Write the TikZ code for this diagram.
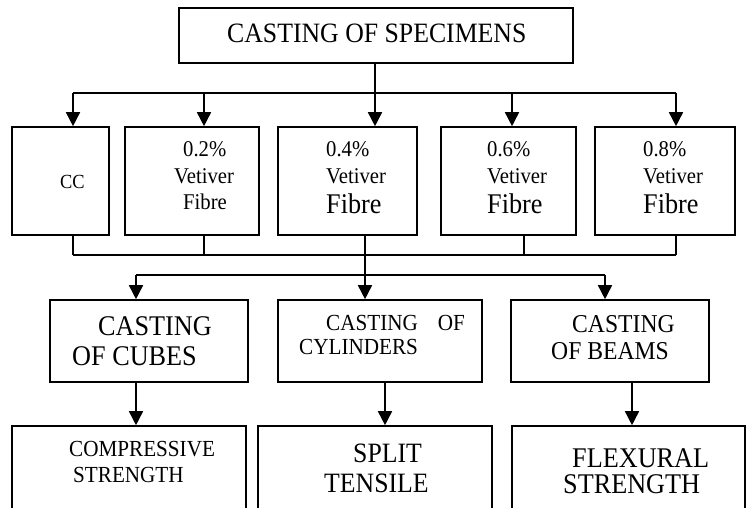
\documentclass[tikz,border=0pt]{standalone}
\usepackage{fontspec}
\setmainfont[FakeStretch=0.92]{Liberation Serif}
\usetikzlibrary{arrows.meta}
\begin{document}
\begin{tikzpicture}[x=1pt,y=-1pt,
  box/.style={draw, line width=1.6pt, inner sep=0pt},
  conn/.style={line width=1.6pt},
  arr/.style={conn, -{Triangle[width=14pt,length=14pt]}},
  lbl/.style={inner sep=0pt, anchor=base west},
  fa/.style={font=\fontsize{20}{22}\selectfont},
  fb/.style={font=\fontsize{22.5}{24}\selectfont},
  fc/.style={font=\fontsize{28.5}{30}\selectfont},
  fd/.style={font=\fontsize{25.7}{28}\selectfont}
]
\path[use as bounding box] (0,0) rectangle (749,508);
\clip (0,0) rectangle (749,508);

% boxes
\node[box, minimum width=394pt, minimum height=55pt] (top) at (376,35.5) {};
\node[box, minimum width=97pt,  minimum height=108pt] (cc) at (60.5,181) {};
\node[box, minimum width=134pt, minimum height=108pt] (b2) at (192,181) {};
\node[box, minimum width=139pt, minimum height=108pt] (b4) at (347.5,181) {};
\node[box, minimum width=135pt, minimum height=108pt] (b6) at (508.5,181) {};
\node[box, minimum width=140pt, minimum height=108pt] (b8) at (665,181) {};
\node[box, minimum width=198pt, minimum height=82pt] (cub) at (149,341) {};
\node[box, minimum width=204pt, minimum height=82pt] (cyl) at (380,341) {};
\node[box, minimum width=198pt, minimum height=82pt] (bem) at (610,341) {};
\node[box, minimum width=234pt, minimum height=114pt] (comp) at (129,483) {};
\node[box, minimum width=234pt, minimum height=114pt] (spl) at (375,483) {};
\node[box, minimum width=233pt, minimum height=114pt] (flx) at (628.5,483) {};

% texts
\node[lbl, font=\fontsize{28}{30}\selectfont] (ttop) at (227,43) {CASTING OF SPECIMENS};
\node[lbl, fa] (tcc) at (60,188) {CC};
\node[lbl, fb] (t2a) at (183,157) {0.2\%};
\node[lbl, fb] (t2b) at (174,183) {Vetiver};
\node[lbl, fb] (t2c) at (183,209) {Fibre};
\node[lbl, fb] (t4a) at (326,157) {0.4\%};
\node[lbl, fb] (t4b) at (326,183) {Vetiver};
\node[lbl, fc] (t4c) at (326,213) {Fibre};
\node[lbl, fb] (t6a) at (487,157) {0.6\%};
\node[lbl, fb] (t6b) at (487,183) {Vetiver};
\node[lbl, fc] (t6c) at (487,213) {Fibre};
\node[lbl, fb] (t8a) at (643,157) {0.8\%};
\node[lbl, fb] (t8b) at (643,183) {Vetiver};
\node[lbl, fc] (t8c) at (643,213) {Fibre};
\node[lbl, fc] (tcua) at (98,335) {CASTING};
\node[lbl, fc] (tcub) at (72,365) {OF CUBES};
\node[lbl, font=\fontsize{23}{25}\selectfont] (tcya) at (326,330) {CASTING\hspace{20pt}OF};
\node[lbl, font=\fontsize{23}{25}\selectfont] (tcyb) at (299,354) {CYLINDERS};
\node[lbl, fd] (tbea) at (572,332) {CASTING};
\node[lbl, fd] (tbeb) at (551,359) {OF BEAMS};
\node[lbl, font=\fontsize{23}{25}\selectfont] (tcoa) at (69,456) {COMPRESSIVE};
\node[lbl, font=\fontsize{23}{25}\selectfont] (tcob) at (73,482) {STRENGTH};
\node[lbl, font=\fontsize{28}{30}\selectfont] (tspa) at (353,462) {SPLIT};
\node[lbl, font=\fontsize{28}{30}\selectfont] (tspb) at (324,492) {TENSILE};
\node[lbl, fc] (tfla) at (572,467) {FLEXURAL};
\node[lbl, fc] (tflb) at (563,493) {STRENGTH};

% junction coordinates
\coordinate (t1) at (73,93);
\coordinate (t2) at (204,93);
\coordinate (t3) at (375,93);
\coordinate (t4) at (512,93);
\coordinate (t5) at (676,93);
\coordinate (u1) at (73,255);
\coordinate (u2) at (204,255);
\coordinate (u3) at (365,255);
\coordinate (u4) at (524,255);
\coordinate (u5) at (676,255);
\coordinate (v1) at (136,275);
\coordinate (v3) at (605,275);
\coordinate (w1) at (136,400);
\coordinate (w2) at (385,400);
\coordinate (w3) at (632,400);

% top distribution
\draw[conn] (top.south -| t3) -- (t3);
\draw[conn] (t1) -- (t5);
\draw[arr] (t1) -- (t1 |- cc.north);
\draw[arr] (t2) -- (t2 |- b2.north);
\draw[arr] (t3) -- (t3 |- b4.north);
\draw[arr] (t4) -- (t4 |- b6.north);
\draw[arr] (t5) -- (t5 |- b8.north);

% collection
\draw[conn] (u1 |- cc.south) -- (u1);
\draw[conn] (u2 |- b2.south) -- (u2);
\draw[conn] (u3 |- b4.south) -- (u3);
\draw[conn] (u4 |- b6.south) -- (u4);
\draw[conn] (u5 |- b8.south) -- (u5);
\draw[conn] (u1) -- (u5);

% second distribution
\draw[arr] (u3) -- (u3 |- cyl.north);
\draw[conn] (v1) -- (v3);
\draw[arr] (v1) -- (v1 |- cub.north);
\draw[arr] (v3) -- (v3 |- bem.north);

% to tests
\draw[arr] (w1 |- cub.south) -- (w1 |- comp.north);
\draw[arr] (w2 |- cyl.south) -- (w2 |- spl.north);
\draw[arr] (w3 |- bem.south) -- (w3 |- flx.north);
\end{tikzpicture}
\end{document}
